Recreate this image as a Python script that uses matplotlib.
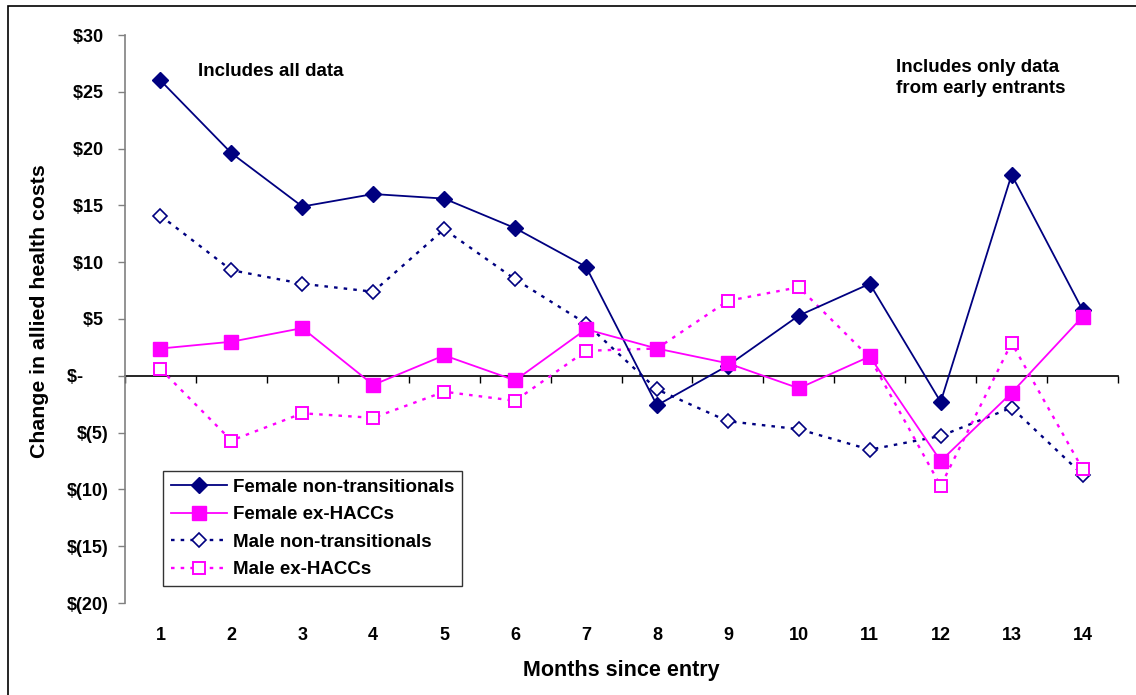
import matplotlib
matplotlib.use("Agg")
import matplotlib.pyplot as plt
from matplotlib.patches import Rectangle
from matplotlib.ticker import FixedLocator, FuncFormatter

# Months since entry
months = list(range(1, 15))

# Change in allied health costs ($)
female_non_transitional = [26.0, 19.6, 14.9, 16.0, 15.6, 13.0, 9.6, -2.6, 0.9, 5.3, 8.1, -2.3, 17.7, 5.8]
female_ex_haccs = [2.4, 3.0, 4.2, -0.8, 1.8, -0.4, 4.1, 2.4, 1.1, -1.1, 1.7, -7.5, -1.5, 5.2]
male_non_transitional = [14.1, 9.3, 8.1, 7.4, 12.9, 8.5, 4.6, -1.2, -4.0, -4.7, -6.5, -5.3, -2.8, -8.7]
male_ex_haccs = [0.6, -5.7, -3.3, -3.7, -1.4, -2.2, 2.2, 2.4, 6.6, 7.8, 1.6, -9.7, 2.9, -8.2]

y_ticks = [-20, -15, -10, -5, 0, 5, 10, 15, 20, 25, 30]

NAVY = "#000080"
MAGENTA = "#FF00FF"

plt.rcParams["font.family"] = ["Liberation Sans", "DejaVu Sans"]
plt.rcParams["font.weight"] = "bold"

fig = plt.figure(figsize=(11.36, 6.95), dpi=100)
ax = fig.add_axes([125 / 1136, 1 - 603 / 695, (1118 - 125) / 1136, (603 - 35) / 695])

# Outer chart frame
fig.patches.append(Rectangle((8 / 1136, -0.01), 1.05, 1 - 6 / 695 + 0.01,
                             transform=fig.transFigure, fill=False,
                             edgecolor="black", linewidth=1.2, zorder=0))

dot = (0, (1.5, 2.6))
ax.plot(months, female_non_transitional, color=NAVY, lw=1.3, marker="D",
        markersize=8.5, markerfacecolor=NAVY, markeredgecolor=NAVY,
        label="Female non-transitionals", zorder=4)
ax.plot(months, female_ex_haccs, color=MAGENTA, lw=1.3, marker="s",
        markersize=10, markerfacecolor=MAGENTA, markeredgecolor=MAGENTA,
        label="Female ex-HACCs", zorder=4)
ax.plot(months, male_non_transitional, color=NAVY, lw=1.7, linestyle=dot,
        marker="D", markersize=7, markerfacecolor="white", markeredgecolor=NAVY,
        markeredgewidth=1.2, label="Male non-transitionals", zorder=3)
ax.plot(months, male_ex_haccs, color=MAGENTA, lw=1.7, linestyle=dot,
        marker="s", markersize=9, markerfacecolor="white", markeredgecolor=MAGENTA,
        markeredgewidth=1.4, label="Male ex-HACCs", zorder=3)

ax.set_xlim(0.5, 14.5)
ax.set_ylim(-20, 30)

# Y axis in accounting-style dollars
ax.yaxis.set_major_locator(FixedLocator(y_ticks))


def money(v, pos):
    v = int(round(v))
    if v == 0:
        return "$-     "
    if v < 0:
        return f"$({-v})"
    return f"${v} "


ax.yaxis.set_major_formatter(FuncFormatter(money))
ax.tick_params(axis="y", direction="out", length=5, width=1, color="#808080",
               labelsize=13, pad=7)
for lab in ax.get_yticklabels():
    lab.set_fontweight("bold")

# X axis: labels along the bottom, category axis line through zero
ax.set_xticks(months)
ax.set_xticklabels([str(m) for m in months], fontsize=13, fontweight="bold")
ax.tick_params(axis="x", length=0, pad=17)
for side in ("top", "right", "bottom"):
    ax.spines[side].set_visible(False)
ax.spines["left"].set_color("#808080")
ax.spines["left"].set_linewidth(1.2)

zero_axis = ax.secondary_xaxis(0.4)
zero_axis.set_xticks([m + 0.5 for m in [0] + months])
zero_axis.tick_params(axis="x", direction="out", length=5, width=1,
                      labelbottom=False, labeltop=False, color="black")
zero_axis.spines["bottom"].set_color("black")
zero_axis.spines["bottom"].set_linewidth(1.2)
zero_axis.set_xticklabels([])

fig.text(40 / 1136, 1 - 311 / 695, "Change in allied health costs", rotation=90,
         fontsize=15.3, fontweight="bold", va="center", ha="center")
ax.set_xlabel("Months since entry", fontsize=15.5, fontweight="bold", labelpad=12)

fig.text(198 / 1136, 1 - 72 / 695, "Includes all data", fontsize=13.5,
         fontweight="bold", va="center", ha="left")
fig.text(896 / 1136, 1 - 78 / 695, "Includes only data\nfrom early entrants",
         fontsize=13.5, fontweight="bold", va="center", ha="left", linespacing=1.32)

leg = ax.legend(loc="lower left", bbox_to_anchor=((163 - 125) / 993, (603 - 586) / 568),
                fontsize=13.5, frameon=True, fancybox=False, shadow=False,
                edgecolor="black", handlelength=3.0, handletextpad=0.35,
                borderpad=0.4, labelspacing=0.56, borderaxespad=0)
leg.get_frame().set_linewidth(1.0)
for t in leg.get_texts():
    t.set_fontweight("bold")

fig.savefig("out.png", dpi=100)
